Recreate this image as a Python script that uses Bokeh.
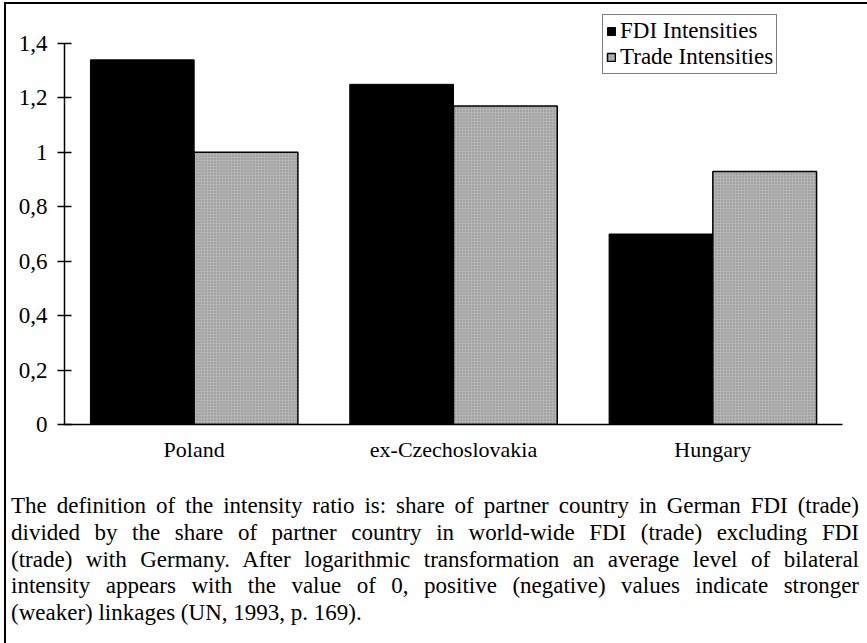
from bokeh.plotting import figure
from bokeh.models import (Range1d, FactorRange, FixedTicker, Legend, LegendItem,
                          Div, ColumnDataSource)
from bokeh.transform import dodge
from bokeh.layouts import column
from bokeh.embed import file_html
from bokeh.resources import INLINE

# ---- data ----
countries = ["Poland", "ex-Czechoslovakia", "Hungary"]
fdi_intensity = [1.34, 1.25, 0.70]
trade_intensity = [1.00, 1.17, 0.93]
series_names = ["FDI Intensities", "Trade Intensities"]
y_ticks = [0, 0.2, 0.4, 0.6, 0.8, 1.0, 1.2, 1.4]
y_tick_labels = ["0", "0,2", "0,4", "0,6", "0,8", "1", "1,2", "1,4"]
caption_lines = [
    "The definition of the intensity ratio is: share of partner country in German FDI (trade)",
    "divided by the share of partner country in world-wide FDI (trade) excluding FDI",
    "(trade) with Germany. After logarithmic transformation an average level of bilateral",
    "intensity appears with the value of 0, positive (negative) values indicate stronger",
    "(weaker) linkages (UN, 1993, p. 169).",
]

FONT = "Liberation Serif"
Y_AXIS_TOP = 1.4
Y_VIEW_TOP = 1.514   # headroom above the axis so the legend fits inside the frame

src = ColumnDataSource(dict(country=countries, fdi=fdi_intensity, trade=trade_intensity))

p = figure(x_range=FactorRange(factors=countries, range_padding=0),
           y_range=Range1d(0, Y_VIEW_TOP),
           width=854, height=478,
           output_backend="svg", toolbar_location=None,
           min_border_left=58, min_border_right=18,
           min_border_top=8, min_border_bottom=58)
p.outline_line_color = None
p.xgrid.grid_line_color = None
p.ygrid.grid_line_color = None
p.background_fill_color = "white"
p.border_fill_color = "white"

r1 = p.vbar(x=dodge("country", -0.2, range=p.x_range), top="fdi", width=0.4,
            source=src, fill_color="black", line_color="black", line_width=1)
r2 = p.vbar(x=dodge("country", 0.2, range=p.x_range), top="trade", width=0.4,
            source=src, fill_color="#b4b4b4", line_color="black", line_width=1.5,
            hatch_pattern="dot", hatch_color="#666666", hatch_scale=3,
            hatch_alpha=0.6)

# y axis
yax = p.yaxis[0]
yax.bounds = (0, Y_AXIS_TOP)
yax.ticker = FixedTicker(ticks=y_ticks)
yax.major_label_overrides = {t: l for t, l in zip(y_ticks, y_tick_labels)}
yax.minor_tick_line_color = None
yax.major_tick_in = 7
yax.major_tick_out = 7
yax.major_tick_line_width = 1.5
yax.axis_line_width = 1.5
yax.major_label_standoff = 10
yax.major_label_text_font = FONT
yax.major_label_text_font_size = "23px"
yax.major_label_text_color = "black"

# x axis
xax = p.xaxis[0]
xax.major_tick_line_color = None
xax.minor_tick_line_color = None
xax.major_tick_out = 0
xax.axis_line_width = 1.5
xax.major_label_standoff = 12
xax.major_label_text_font = FONT
xax.major_label_text_font_size = "22px"
xax.major_label_text_color = "black"

legend = Legend(items=[LegendItem(label=series_names[0], renderers=[r1]),
                       LegendItem(label=series_names[1], renderers=[r2])],
                location=(538, 350),
                border_line_color="black", border_line_width=1.5,
                background_fill_color="white", background_fill_alpha=1,
                label_text_font=FONT, label_text_font_size="23px",
                label_text_color="black",
                glyph_width=10, glyph_height=10, label_standoff=4,
                padding=3, spacing=0, margin=0, label_height=20)
p.add_layout(legend)

rows = []
for i, line in enumerate(caption_lines):
    if i < len(caption_lines) - 1:
        rows.append('<div style="text-align:justify;text-align-last:justify;white-space:nowrap;">%s</div>' % line)
    else:
        rows.append('<div style="text-align:left;white-space:nowrap;">%s</div>' % line)
html = ('<div style="width:848px;box-sizing:border-box;padding:6px 0 0 0;'
        'font-family:\'Liberation Serif\';font-size:23px;line-height:26.8px;color:black;">'
        + "".join(rows) + '</div>')
caption = Div(text=html, width=854, height=160)

layout = column(p, caption, styles={
    "margin-left": "4px", "margin-top": "2px",
    "border-left": "2px solid black", "border-right": "2px solid black",
    "border-top": "2px solid black", "background-color": "white"})

open("out.html", "w").write(file_html(layout, INLINE))
